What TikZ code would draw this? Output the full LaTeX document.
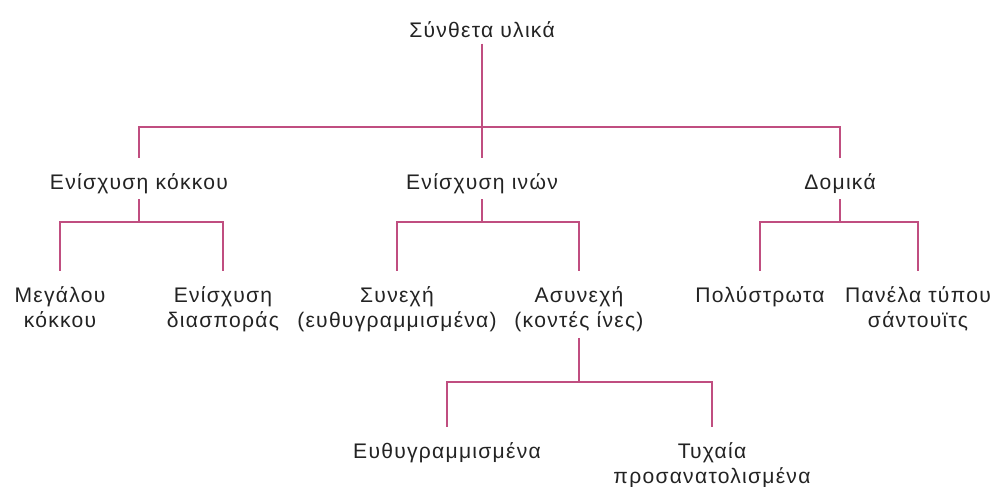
\documentclass[tikz,border=0pt]{standalone}
\usepackage{fontspec}
\setmainfont[LetterSpace=6]{Liberation Sans}
\usepackage{tikz}
\usetikzlibrary{positioning, calc}
\definecolor{branchpink}{RGB}{192,78,128}
\definecolor{labelgray}{RGB}{35,35,35}
\tikzset{
  catnode/.style={align=center, inner sep=3pt, text=labelgray,
    font=\fontsize{12}{14.4}\selectfont},
  subnode/.style={catnode, anchor=north},
  branch/.style={draw=branchpink, line width=1.4pt},
  drop/.style={branch, shorten >=5.5pt},
}

\begin{document}
\begin{tikzpicture}[x=0.02cm, y=-0.02cm]
  \useasboundingbox (0,0) rectangle (998,487);

  \node[catnode] (root) at (482,30) {Σύνθετα υλικά};

  \node[subnode] (grain)  at (139,168) {Ενίσχυση κόκκου};
  \node[subnode] (fibre)  at (482,168) {Ενίσχυση ινών};
  \node[subnode] (struct) at (840,168) {Δομικά};

  \node[subnode] (large)  at (60,281)  {Μεγάλου\\κόκκου};
  \node[subnode] (disp)   at (223,281) {Ενίσχυση\\διασποράς};
  \node[subnode] (cont)   at (397,281) {Συνεχή\\(ευθυγραμμισμένα)};
  \node[subnode] (discont) at (579,281) {Ασυνεχή\\(κοντές ίνες)};
  \node[subnode] (lamin)  at (760,281) {Πολύστρωτα};
  \node[subnode] (sandw)  at (918,281) {Πανέλα τύπου\\σάντουϊτς};

  \node[subnode] (aligned) at (447,437) {Ευθυγραμμισμένα};
  \node[subnode] (random)  at (712,437) {Τυχαία\\προσανατολισμένα};

  % junctions of the bars
  \coordinate (j0) at (482,127);
  \coordinate (j1) at (139,222);
  \coordinate (j2) at (482,222);
  \coordinate (j3) at (840,222);
  \coordinate (j4) at (579,382);

  \draw[branch] (root) -- (j0);
  \draw[drop] (j0) -| (grain);
  \draw[drop] (j0) -- (fibre);
  \draw[drop] (j0) -| (struct);

  \draw[branch] (grain) -- (j1);
  \draw[drop] (j1) -| (large);
  \draw[drop] (j1) -| (disp);

  \draw[branch] (fibre) -- (j2);
  \draw[drop] (j2) -| (cont);
  \draw[drop] (j2) -| (discont);

  \draw[branch] (struct) -- (j3);
  \draw[drop] (j3) -| (lamin);
  \draw[drop] (j3) -| (sandw);

  \draw[branch] (discont) -- (j4);
  \draw[drop] (j4) -| (aligned);
  \draw[drop] (j4) -| (random);
\end{tikzpicture}
\end{document}
